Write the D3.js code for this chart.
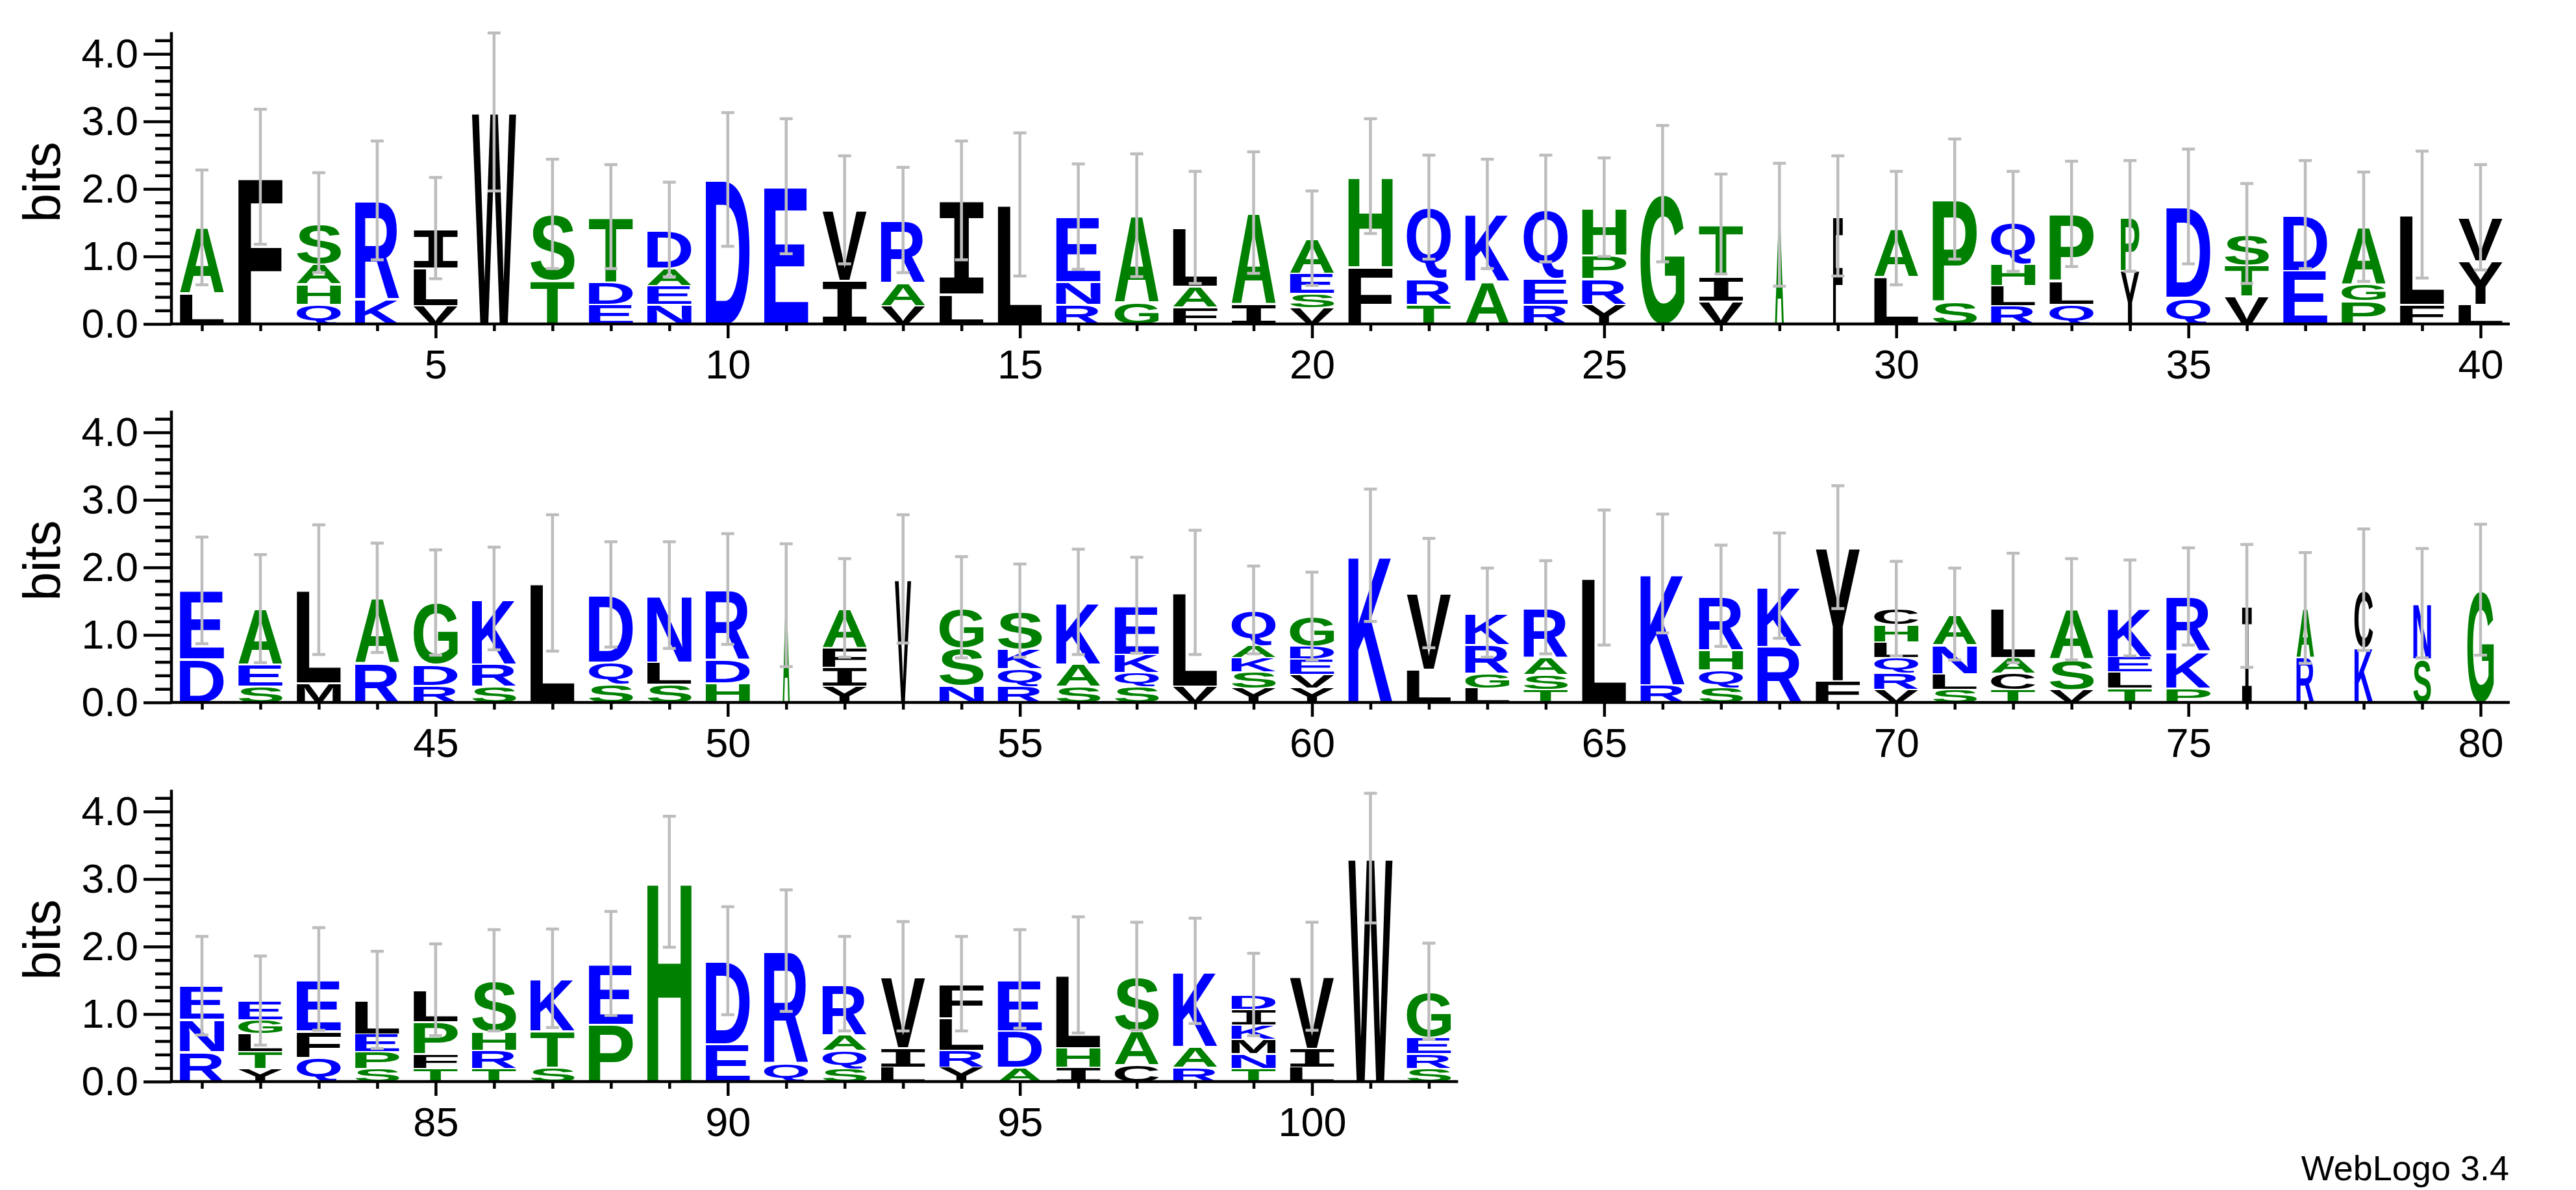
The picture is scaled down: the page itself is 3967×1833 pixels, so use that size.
<!DOCTYPE html>
<html><head><meta charset="utf-8">
<script src="https://cdn.jsdelivr.net/npm/d3@7"></script>
<style>body{margin:0;background:#fff}svg{display:block}</style>
</head><body>
<script>
// ---- data (bottom -> top letter stacks, heights in bits) ----
const positions = d3.range(1, 103);
const stacks = [
"L.46 A.97","F2.18","Q.3 H.3 A.3 S.6","K.37 R1.46","V.28 L.56 I.58","W3.14","T.65 S.98","E.3 D.33 T.96","N.3 E.28 A.26 D.56","D2.14",
"E2.04","I.65 V1.04","V.28 A.34 R.92","L.45 I1.38","L1.77","R.3 N.33 E.96","G.33 A1.28","F.26 A.31 L.86","I.3 A1.35","V.25 S.21 E.3 A.51",
"F.86 H1.33","T.3 R.38 Q1.05","A.64 K.99","R.3 E.39 Q1.02","Y.3 R.38 P.35 H.7","G1.93","V.35 I.37 T.76","A1.47","F1.6","L.71 A.71",
"S.35 P1.5","R.28 L.3 H.32 Q.62","Q.3 L.35 P.98","Y.8 P.8","Q.4 D1.34","V.42 T.46 S.46","E.8 D.82","P.35 G.24 A.85","F.3 L1.32","L.3 Y.64 V.64",
"D.65 E1.01","S.25 E.32 A.82","M.3 L1.37","R.59 A.96","R.26 D.31 G.91","S.25 R.33 K.96","L1.77","S.28 Q.33 D.99","S.28 L.33 N.98","H.3 D.35 R1.03",
"A1.44","Y.25 I.28 F.29 A.58","V1.83","N.26 S.56 G.59","R.25 Q.26 K.29 S.56","S.25 A.33 K.91","S.25 Q.2 K.27 E.72","V.25 L1.38","Y.22 S.24 K.21 A.17 Q.53","Y.22 V.2 E.23 D.19 G.44",
"K2.18","L.5 V1.12","L.22 G.22 R.43 K.46","T.2 S.22 A.25 R.74","L1.85","R.27 K1.64","S.23 Q.26 H.29 R.8","R.84 K.89","F.33 Y1.97","V.2 R.24 Q.23 L.23 H.26 C.23",
"S.2 L.23 N.43 A.45","T.2 C.24 A.23 L.73","V.2 S.45 A.73","T.22 L.24 E.22 K.72","P.22 K.54 R.81","I1.43","R.68 A.72","K.82 C.85","S.65 N.82","G1.67",
"R.45 N.48 E.49","Y.2 T.25 L.27 G.2 E.28","Q.37 F.39 E.76","S.2 P.25 E.26 L.5","T.2 F.22 P.47 L.47","T.2 R.27 H.27 S.76","S.22 T.54 K.77","P.86 E.89","H2.96","E.57 D1.22",
"Q.28 R1.66","S.2 Q.27 A.23 R.75","L.22 I.29 V1.05","Y.22 R.25 L.48 F.5","A.22 D.54 E.76","I.22 H.29 L1.07","C.26 A.5 S.8","R.22 A.31 K1.11","T.2 N.22 M.21 K.22 I.23 D.21","L.22 I.28 V1.06",
"W3.31","S.2 R.22 E.24 G.68"
];
const errors = [
.85,1.0,.74,.88,.75,1.17,.81,.77,.7,.99, 1.0,.8,.78,.88,1.06,.78,.91,.83,.9,.7,
.85,.77,.81,.79,.73,1.01,.74,.91,.89,.84, .89,.74,.78,.82,.85,.74,.8,.81,.94,.78,
.79,.8,.96,.81,.78,.76,1.01,.78,.79,.82, .91,.73,.95,.75,.69,.78,.71,.92,.65,.65,
.98,.81,.66,.69,1.0,.88,.75,.78,.91,.7, .68,.81,.75,.71,.72,.91,.82,.9,.81,.97,
.73,.66,.76,.72,.68,.75,.73,.77,.97,.8, .9,.7,.81,.7,.73,.86,.8,.78,.61,.8,
.96,.71];
const narrowPositions = [28,29,34,51,53,76,77,78,79,80];
const narrowWidths    = [.2,.22,.42,.16,.37,.22,.4,.42,.4,.6];
const rowStarts = [1,41,81];
const rowEnds = [40,80,102];
const yTicks = d3.range(0, 4.21, 0.2);

const blue = "#0000ff", green = "#008000", black = "#000000";
const colorOf = c => "DEKRNQ".includes(c) ? blue : "AGHPST".includes(c) ? green : black;

// ---- layout ----
const W = 3967, H = 1833;
const rowZero = [499, 1082, 1666];
const bitPx = 104, maxBits = Math.log2(20);
const letterW = 68;

const svg = d3.select("body").append("svg").attr("width", W).attr("height", H);
svg.append("rect").attr("width", W).attr("height", H).attr("fill", "#fff");

// glyph metrics
const cv = document.createElement("canvas").getContext("2d");
const fontFor = c => c === "I" ? "'DejaVu Sans Mono'" : "'Liberation Sans', Arial, sans-serif";
const metrics = {};
function met(c) {
  if (!metrics[c]) {
    cv.font = "bold 200px " + fontFor(c);
    const m = cv.measureText(c);
    metrics[c] = {l: m.actualBoundingBoxLeft, r: m.actualBoundingBoxRight, a: m.actualBoundingBoxAscent, d: m.actualBoundingBoxDescent};
  }
  return metrics[c];
}

rowStarts.forEach((start, ri) => {
  const end = rowEnds[ri];
  const zero = rowZero[ri];
  const x = d3.scaleLinear().domain([start - 0.5, start + 39.5]).range([266, 3865]);
  const y = d3.scaleLinear().domain([0, maxBits]).range([zero, zero - maxBits * bitPx]);
  const g = svg.append("g");

  // letters
  const rowPos = positions.filter(p => p >= start && p <= end);
  rowPos.forEach(p => {
    const items = stacks[p - 1].split(" ").map(s => ({c: s[0], h: +s.slice(1)}));
    const ni = narrowPositions.indexOf(p);
    const wf = ni >= 0 ? narrowWidths[ni] : 1;
    const bw = letterW * wf;
    let cum = 0;
    items.forEach(it => {
      const yb = y(cum), yt = y(cum + it.h);
      cum += it.h;
      const gap = Math.min(3, (yb - yt) * 0.08);
      const bh = yb - yt - gap;
      const m = met(it.c);
      const sx = bw / (m.l + m.r), sy = bh / (m.a + m.d);
      g.append("text").text(it.c)
        .attr("font-family", fontFor(it.c)).attr("font-weight", "bold").attr("font-size", 200)
        .attr("fill", colorOf(it.c))
        .attr("transform", `translate(${x(p) - bw / 2},${yt + gap}) scale(${sx},${sy}) translate(${m.l},${m.a})`);
    });
    // error bar
    const e = errors[p - 1];
    const eg = g.append("g").attr("stroke", "#bdbdbd").attr("stroke-width", 4.5);
    eg.append("line").attr("x1", x(p)).attr("x2", x(p)).attr("y1", y(cum - e)).attr("y2", y(cum + e));
    [cum - e, cum + e].forEach(v => eg.append("line").attr("x1", x(p) - 10).attr("x2", x(p) + 10).attr("y1", y(v)).attr("y2", y(v)));
  });

  // y axis
  const ya = d3.axisLeft(y).tickValues(yTicks).tickSize(43).tickSizeOuter(0).tickPadding(8)
    .tickFormat(d => Math.abs(d - Math.round(d)) < 1e-6 ? d3.format(".1f")(d) : "");
  const yg = svg.append("g").attr("transform", `translate(264,0)`).call(ya);
  yg.selectAll(".tick line").attr("x2", d => Math.abs(d - Math.round(d)) < 1e-6 ? -43 : -25);
  yg.select(".domain").attr("d", `M0,${y(0)}V${y(maxBits)}`);

  // x axis
  const xa = d3.axisBottom(x).tickValues(rowPos).tickSize(11).tickSizeOuter(0).tickPadding(28)
    .tickFormat(d => d % 5 === 0 ? d : "");
  const xg = svg.append("g").attr("transform", `translate(0,${zero})`).call(xa);
  xg.selectAll(".tick line").attr("y2", d => d % 5 === 0 ? 22 : 11);
  xg.select(".domain").attr("d", `M${x(start - 0.5) - 2},0H${x(end + 0.5)}`);

  [yg, xg].forEach(a => {
    a.selectAll("path,line").attr("stroke", "#000").attr("stroke-width", 4.5);
    a.selectAll("text").attr("font-family", "'Liberation Sans', Arial, sans-serif").attr("font-size", 63).attr("fill", "#000");
  });

  svg.append("text").text("bits")
    .attr("transform", `translate(92,${y(2.1)}) rotate(-90)`)
    .attr("text-anchor", "middle").attr("font-family", "'Liberation Sans', Arial, sans-serif").attr("font-size", 80);
});

svg.append("text").text("WebLogo 3.4").attr("x", 3864).attr("y", 1818).attr("text-anchor", "end")
  .attr("font-family", "'Liberation Sans', Arial, sans-serif").attr("font-size", 54);
</script>
</body></html>
